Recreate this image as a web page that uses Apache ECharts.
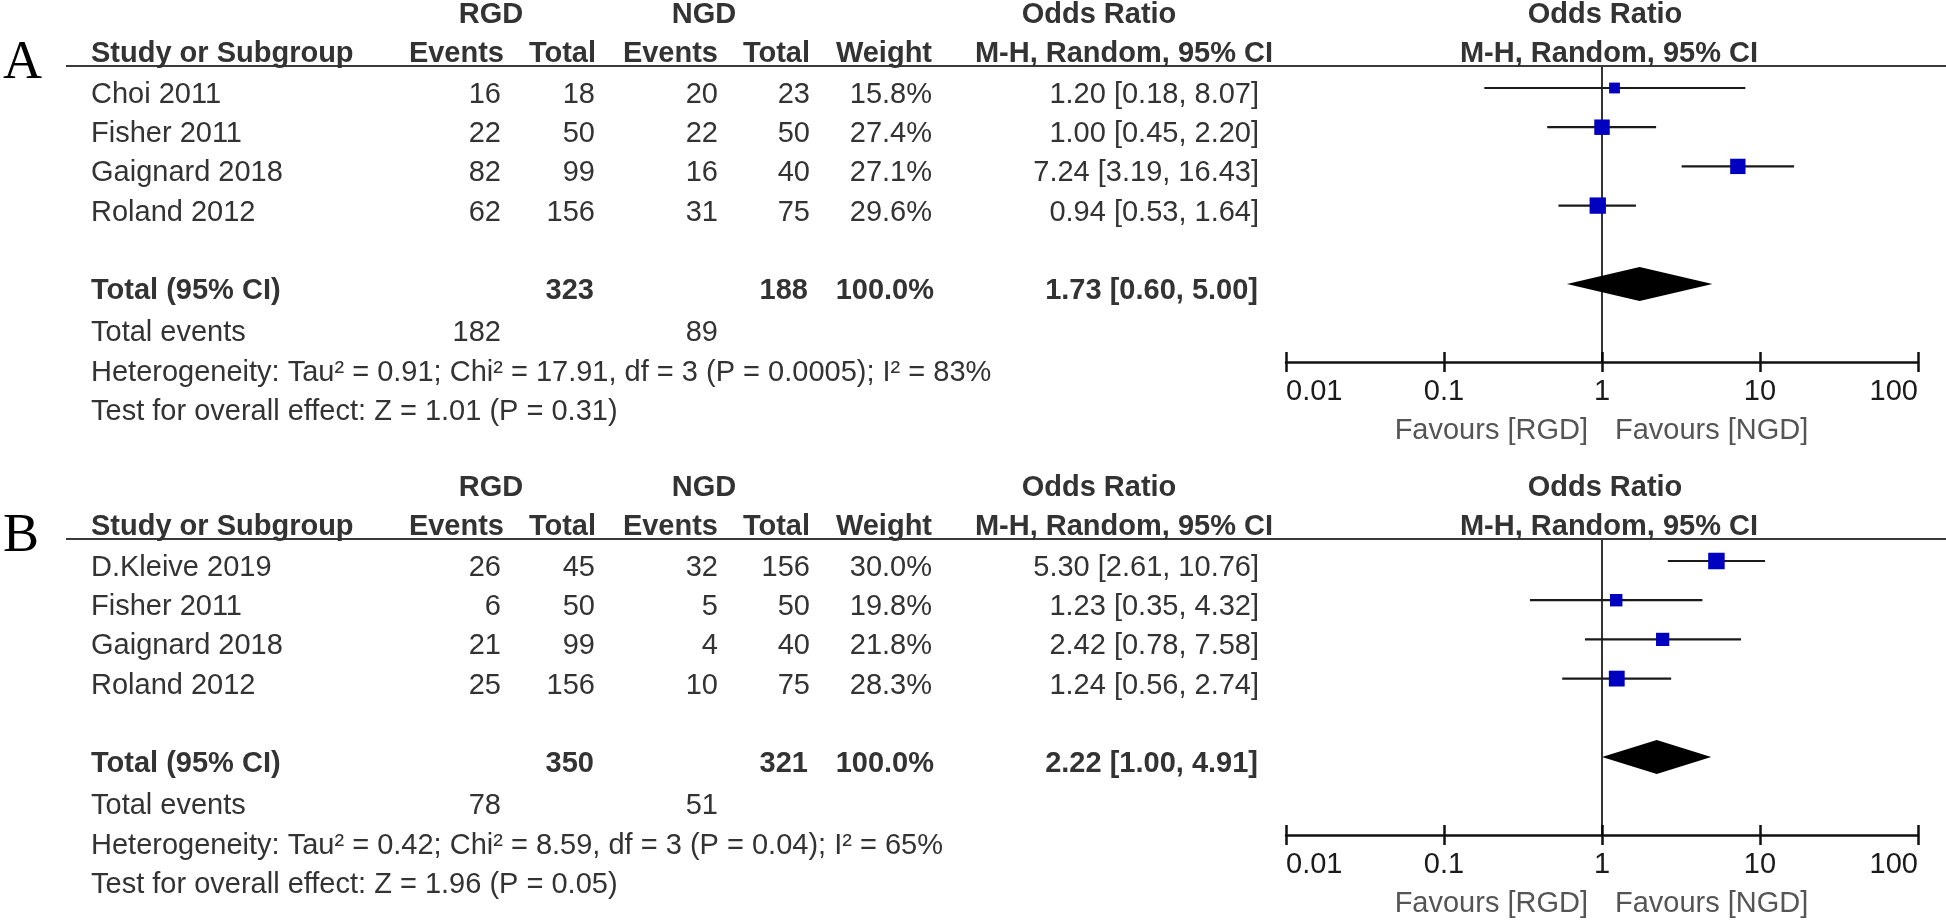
<!DOCTYPE html>
<html>
<head>
<meta charset="utf-8">
<script src="https://cdn.jsdelivr.net/npm/echarts@6/dist/echarts.min.js"></script>
<style>html,body{margin:0;padding:0;background:#fff;}#c{width:1946px;height:920px;}</style>
</head>
<body>
<div id="c"></div>
<script>
// ---------- DATA ----------
const tickValues = [0.01, 0.1, 1, 10, 100];
const tickLabels = ['0.01', '0.1', '1', '10', '100'];

const studiesA   = ['Choi 2011', 'Fisher 2011', 'Gaignard 2018', 'Roland 2012'];
const rgdEventsA = [16, 22, 82, 62];
const rgdTotalA  = [18, 50, 99, 156];
const ngdEventsA = [20, 22, 16, 31];
const ngdTotalA  = [23, 50, 40, 75];
const weightA    = [15.8, 27.4, 27.1, 29.6];
const orA        = [1.20, 1.00, 7.24, 0.94];
const loA        = [0.18, 0.45, 3.19, 0.53];
const hiA        = [8.07, 2.20, 16.43, 1.64];
const totalsA      = [323, 188];
const totalWeightA = 100.0;
const totalEventsA = [182, 89];
const pooledA      = [1.73, 0.60, 5.00];
const hetA  = 'Heterogeneity: Tau² = 0.91; Chi² = 17.91, df = 3 (P = 0.0005); I² = 83%';
const testA = 'Test for overall effect: Z = 1.01 (P = 0.31)';

const studiesB   = ['D.Kleive 2019', 'Fisher 2011', 'Gaignard 2018', 'Roland 2012'];
const rgdEventsB = [26, 6, 21, 25];
const rgdTotalB  = [45, 50, 99, 156];
const ngdEventsB = [32, 5, 4, 10];
const ngdTotalB  = [156, 50, 40, 75];
const weightB    = [30.0, 19.8, 21.8, 28.3];
const orB        = [5.30, 1.23, 2.42, 1.24];
const loB        = [2.61, 0.35, 0.78, 0.56];
const hiB        = [10.76, 4.32, 7.58, 2.74];
const totalsB      = [350, 321];
const totalWeightB = 100.0;
const totalEventsB = [78, 51];
const pooledB      = [2.22, 1.00, 4.91];
const hetB  = 'Heterogeneity: Tau² = 0.42; Chi² = 8.59, df = 3 (P = 0.04); I² = 65%';
const testB = 'Test for overall effect: Z = 1.96 (P = 0.05)';

// ---------- LAYOUT ----------
const FONT = '"Liberation Sans", Arial, Helvetica, sans-serif';
const FS = 29;
const TXT = '#333333';
const panelOffset = [0, 473];
const GRID_TOP = 66, AXIS_Y = 362, ROW0 = 88, ROW_H = 39.2, TOTAL_ROW = 5, TEXT_DY = 7;
const yMin = (GRID_TOP - ROW0) / ROW_H, yMax = (AXIS_Y - ROW0) / ROW_H;
const PLOT_LEFT = 1286, PLOT_RIGHT = 28;

const panels = [
  {letter: 'A', studies: studiesA, re: rgdEventsA, rt: rgdTotalA, ne: ngdEventsA, nt: ngdTotalA,
   w: weightA, or: orA, lo: loA, hi: hiA, totals: totalsA, tw: totalWeightA, tev: totalEventsA, pooled: pooledA, het: hetA, test: testA},
  {letter: 'B', studies: studiesB, re: rgdEventsB, rt: rgdTotalB, ne: ngdEventsB, nt: ngdTotalB,
   w: weightB, or: orB, lo: loB, hi: hiB, totals: totalsB, tw: totalWeightB, tev: totalEventsB, pooled: pooledB, het: hetB, test: testB}
];

const chart = echarts.init(document.getElementById('c'), null, {renderer: 'canvas'});

const grids = [], xAxes = [], yAxes = [], series = [];
panels.forEach((p, k) => {
  const oy = panelOffset[k];
  grids.push({left: PLOT_LEFT, right: PLOT_RIGHT, top: oy + GRID_TOP, height: AXIS_Y - GRID_TOP});
  const base = {
    type: 'log', logBase: 10, min: tickValues[0], max: tickValues[tickValues.length - 1],
    gridIndex: k, position: 'bottom', splitLine: {show: false}, minorTick: {show: false}
  };
  xAxes.push(Object.assign({}, base, {
    axisLine: {show: true, onZero: false, lineStyle: {color: '#111', width: 2.5}},
    axisTick: {show: true, inside: false, length: 10, lineStyle: {color: '#111', width: 2.5}},
    axisLabel: {
      show: true, margin: 15, color: '#1a1a1a', fontSize: FS, fontFamily: FONT,
      alignMinLabel: 'left', alignMaxLabel: 'right',
      formatter: v => tickLabels[Math.round(Math.log10(v)) + 2]
    }
  }));
  xAxes.push(Object.assign({}, base, {
    axisLine: {show: false, onZero: false},
    axisTick: {show: true, inside: true, length: 10, lineStyle: {color: '#111', width: 2.5}},
    axisLabel: {show: false}
  }));
  yAxes.push({type: 'value', gridIndex: k, inverse: true, min: yMin, max: yMax, show: false});

  const xi = k * 2;
  // CI whiskers
  series.push({
    type: 'custom', xAxisIndex: xi, yAxisIndex: k, z: 3,
    data: p.lo.map((lo, i) => [lo, p.hi[i], i]),
    encode: {x: [0, 1], y: 2},
    renderItem: (params, api) => {
      const a = api.coord([api.value(0), api.value(2)]);
      const b = api.coord([api.value(1), api.value(2)]);
      return {type: 'line', shape: {x1: a[0], y1: a[1], x2: b[0], y2: b[1]},
              style: {stroke: '#1a1a1a', lineWidth: 2.2}};
    }
  });
  // Pooled diamond
  series.push({
    type: 'custom', xAxisIndex: xi, yAxisIndex: k, z: 3,
    data: [[p.pooled[1], p.pooled[0], p.pooled[2], TOTAL_ROW]],
    encode: {x: [0, 1, 2], y: 3},
    renderItem: (params, api) => {
      const l = api.coord([api.value(0), api.value(3)]);
      const m = api.coord([api.value(1), api.value(3)]);
      const r = api.coord([api.value(2), api.value(3)]);
      const h = 17;
      return {type: 'polygon', shape: {points: [[l[0], l[1]], [m[0], m[1] - h], [r[0], r[1]], [m[0], m[1] + h]]},
              style: {fill: '#000'}};
    }
  });
  // Study squares + line of no effect
  series.push({
    type: 'scatter', xAxisIndex: xi, yAxisIndex: k, z: 5,
    symbol: 'rect',
    symbolSize: v => 0.4 * v[2] + 4.5,
    itemStyle: {color: '#0000c0', opacity: 1},
    data: p.or.map((o, i) => [o, i, p.w[i]]),
    markLine: {
      silent: true, symbol: ['none', 'none'], label: {show: false}, z: 2,
      lineStyle: {color: '#000', width: 1.6, type: 'solid'},
      data: [{xAxis: 1}]
    }
  });
});

chart.setOption({
  animation: false,
  grid: grids, xAxis: xAxes, yAxis: yAxes, series: series
});

// ---------- TABLE TEXT ----------
function txt(x, y, s, align, opts) {
  opts = opts || {};
  return {
    type: 'text', x: x, y: y, z: 10, silent: true,
    style: {
      text: String(s), fill: opts.fill || TXT,
      fontSize: opts.size || FS, fontFamily: opts.family || FONT, fontWeight: opts.weight || 'normal',
      align: align, textAlign: align, verticalAlign: 'middle', textVerticalAlign: 'middle'
    }
  };
}
const B = {weight: 'bold'};
const f2 = v => v.toFixed(2);
const graphics = [];
panels.forEach((p, k) => {
  const oy = panelOffset[k];
  const one = chart.convertToPixel({xAxisIndex: k * 2}, 1);
  const rowY = i => chart.convertToPixel({yAxisIndex: k}, i) + TEXT_DY;

  graphics.push(txt(3, oy + 64, p.letter, 'left', {family: '"Liberation Serif", "Times New Roman", serif', size: 54, fill: '#000'}));
  // header row 1
  const h1 = oy + 15;
  graphics.push(txt(491, h1, 'RGD', 'center', B));
  graphics.push(txt(704, h1, 'NGD', 'center', B));
  graphics.push(txt(1099, h1, 'Odds Ratio', 'center', B));
  graphics.push(txt(one + 3, h1, 'Odds Ratio', 'center', B));
  // header row 2
  const h2 = oy + 54;
  graphics.push(txt(91, h2, 'Study or Subgroup', 'left', B));
  graphics.push(txt(504, h2, 'Events', 'right', B));
  graphics.push(txt(596, h2, 'Total', 'right', B));
  graphics.push(txt(718, h2, 'Events', 'right', B));
  graphics.push(txt(810, h2, 'Total', 'right', B));
  graphics.push(txt(932, h2, 'Weight', 'right', B));
  graphics.push(txt(1273, h2, 'M-H, Random, 95% CI', 'right', B));
  graphics.push(txt(one + 7, h2, 'M-H, Random, 95% CI', 'center', B));
  graphics.push({type: 'line', z: 9, silent: true,
    shape: {x1: 66, y1: oy + GRID_TOP, x2: 1946, y2: oy + GRID_TOP},
    style: {stroke: '#3a3a3a', lineWidth: 2}});
  // study rows
  p.studies.forEach((s, i) => {
    const y = rowY(i);
    graphics.push(txt(91, y, s, 'left'));
    graphics.push(txt(501, y, p.re[i], 'right'));
    graphics.push(txt(595, y, p.rt[i], 'right'));
    graphics.push(txt(718, y, p.ne[i], 'right'));
    graphics.push(txt(810, y, p.nt[i], 'right'));
    graphics.push(txt(932, y, p.w[i].toFixed(1) + '%', 'right'));
    graphics.push(txt(1259, y, f2(p.or[i]) + ' [' + f2(p.lo[i]) + ', ' + f2(p.hi[i]) + ']', 'right'));
  });
  // total row
  const ty = rowY(TOTAL_ROW);
  graphics.push(txt(91, ty, 'Total (95% CI)', 'left', B));
  graphics.push(txt(594, ty, p.totals[0], 'right', B));
  graphics.push(txt(808, ty, p.totals[1], 'right', B));
  graphics.push(txt(934, ty, p.tw.toFixed(1) + '%', 'right', B));
  graphics.push(txt(1258, ty, f2(p.pooled[0]) + ' [' + f2(p.pooled[1]) + ', ' + f2(p.pooled[2]) + ']', 'right', B));
  // footer
  graphics.push(txt(91, oy + 333, 'Total events', 'left'));
  graphics.push(txt(501, oy + 333, p.tev[0], 'right'));
  graphics.push(txt(718, oy + 333, p.tev[1], 'right'));
  graphics.push(txt(91, oy + 373, p.het, 'left'));
  graphics.push(txt(91, oy + 412, p.test, 'left'));
  // favours
  graphics.push(txt(one - 14, oy + 431, 'Favours [RGD]', 'right', {fill: '#555'}));
  graphics.push(txt(one + 13, oy + 431, 'Favours [NGD]', 'left', {fill: '#555'}));
});
chart.setOption({graphic: {elements: graphics}});
</script>
</body>
</html>
